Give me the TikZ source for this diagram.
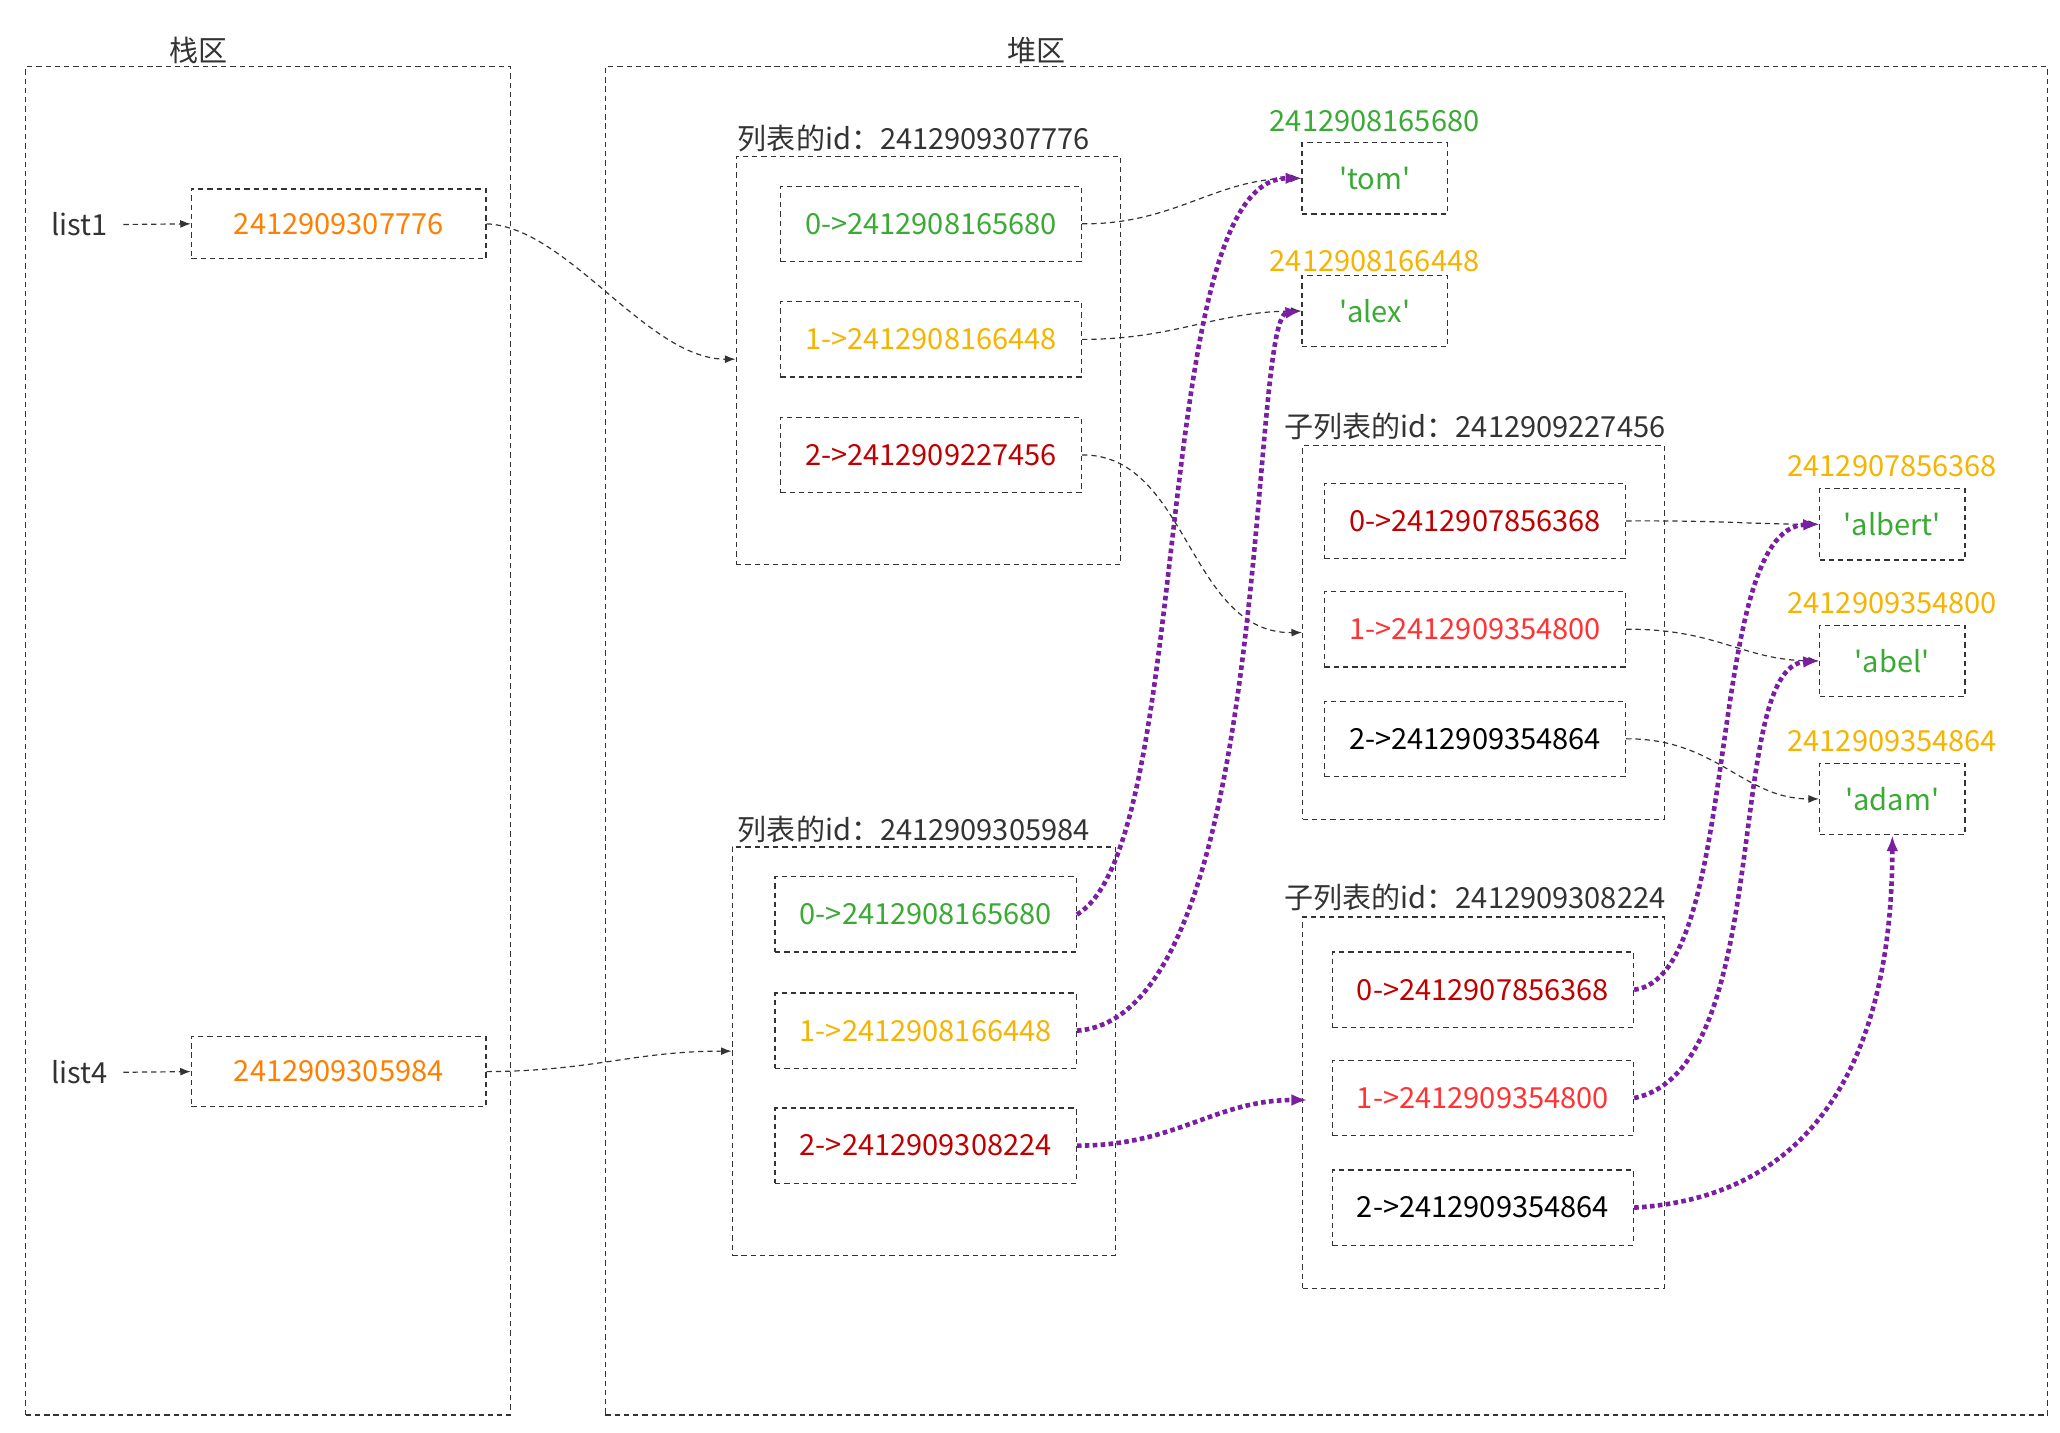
\documentclass[tikz,border=0pt]{standalone}
\usepackage{fontspec}
\setmainfont{Noto Sans CJK SC}
\usetikzlibrary{arrows.meta}
\definecolor{cg}{HTML}{3AAA35}
\definecolor{cy}{HTML}{F5B400}
\definecolor{co}{HTML}{FF7F00}
\definecolor{cr}{HTML}{C00000}
\definecolor{cb}{HTML}{FF3333}
\definecolor{cp}{HTML}{7B1FA2}
\definecolor{ct}{HTML}{333333}
\newcommand{\sq}{\textquotesingle}
\tikzset{
 dbox/.style={draw=ct,dash pattern=on 4pt off 3pt,line width=1pt,inner sep=0pt,font=\fontsize{22}{26}\selectfont},
 item/.style={dbox,minimum width=228pt,minimum height=57pt},
 val/.style={dbox,minimum width=110pt,minimum height=54pt,text=cg},
 lab/.style={font=\fontsize{22}{26}\selectfont,inner sep=0pt},
 blk/.style={draw=ct,line width=0.9pt,dash pattern=on 4pt off 3pt,-{Latex[length=8pt,width=6pt]}},
 pur/.style={draw=cp,line width=3.5pt,dash pattern=on 3.5pt off 2.5pt,-{Latex[length=12pt,width=9pt]}}
}
\begin{document}
\begin{tikzpicture}[x=1pt,y=-1pt]
\useasboundingbox (0,0) rectangle (1560,1085);
% regions
\node[dbox,anchor=north west,minimum width=367pt,minimum height=1021pt] (stack) at (19,50) {};
\node[dbox,anchor=north west,minimum width=1092pt,minimum height=1021pt] (heap) at (458,50) {};
\node[lab,text=ct] (stl) at (150,38) {栈区};
\node[lab,text=ct] (hpl) at (785,38) {堆区};
% stack
\node[lab,text=ct] (l1) at (60,170) {list1};
\node[dbox,minimum width=223pt,minimum height=53pt,text=co] (b1) at (256.5,169.5) {2412909307776};
\node[lab,text=ct] (l4) at (60,812) {list4};
\node[dbox,minimum width=223pt,minimum height=53pt,text=co] (b4) at (256.5,811.5) {2412909305984};
% list1
\node[dbox,anchor=north west,minimum width=291pt,minimum height=309pt] (L1) at (557,118) {};
\node[lab,text=ct] (L1l) at (692,105) {列表的id：2412909307776};
\node[item,text=cg] (a0) at (705,169.5) {0->2412908165680};
\node[item,text=cy] (a1) at (705,257) {1->2412908166448};
\node[item,text=cr] (a2) at (705,344.5) {2->2412909227456};
% values
\node[val] (tom) at (1041,135) {\sq tom\sq};
\node[lab,text=cg] (toml) at (1041,92) {2412908165680};
\node[val] (alex) at (1041,235.5) {\sq alex\sq};
\node[lab,text=cy] (alexl) at (1041,198) {2412908166448};
\node[val] (albert) at (1433,397) {\sq albert\sq};
\node[lab,text=cy] (albertl) at (1433,353) {2412907856368};
\node[val] (abel) at (1433,500.5) {\sq abel\sq};
\node[lab,text=cy] (abell) at (1433,457) {2412909354800};
\node[val] (adam) at (1433,605) {\sq adam\sq};
\node[lab,text=cy] (adaml) at (1433,561) {2412909354864};
% sublist1
\node[dbox,anchor=north west,minimum width=274pt,minimum height=283pt] (S1) at (986,337) {};
\node[lab,text=ct] (S1l) at (1117,323) {子列表的id：2412909227456};
\node[item,text=cr] (s0) at (1117,394.5) {0->2412907856368};
\node[item,text=cb] (s1) at (1117,476.5) {1->2412909354800};
\node[item,text=black] (s2) at (1117,559.5) {2->2412909354864};
% list4
\node[dbox,anchor=north west,minimum width=290pt,minimum height=309pt] (L4) at (554,641) {};
\node[lab,text=ct] (L4l) at (692,628) {列表的id：2412909305984};
\node[item,text=cg] (c0) at (701,692.5) {0->2412908165680};
\node[item,text=cy] (c1) at (701,780.5) {1->2412908166448};
\node[item,text=cr] (c2) at (701,867.5) {2->2412909308224};
% sublist2
\node[dbox,anchor=north west,minimum width=274pt,minimum height=281pt] (S2) at (986,694) {};
\node[lab,text=ct] (S2l) at (1117,680) {子列表的id：2412909308224};
\node[item,text=cr] (t0) at (1123,749.5) {0->2412907856368};
\node[item,text=cb] (t1) at (1123,831.5) {1->2412909354800};
\node[item,text=black] (t2) at (1123,914.5) {2->2412909354864};
\coordinate (L1in) at (557,272);
\coordinate (L4in) at (554,796);
\coordinate (S1in) at (986,479);
\coordinate (S2in) at (990,833);
% black connectors
\draw[blk] (l1.east)++(12,0) -- (b1.west);
\draw[blk] (l4.east)++(12,0) -- (b4.west);
\draw[blk] (b1.east) .. controls (430,172) and (490,272) .. (L1in);
\draw[blk] (b4.east) .. controls (450,811) and (480,796) .. (L4in);
\draw[blk] (a0.east) .. controls (890,170) and (920,135) .. (tom.west);
\draw[blk] (a1.east) .. controls (890,257) and (920,236) .. (alex.west);
\draw[blk] (a2.east) .. controls (900,344) and (900,480) .. (S1in);
\draw[blk] (s0.east) .. controls (1300,394) and (1330,397) .. (albert.west);
\draw[blk] (s1.east) .. controls (1300,476) and (1320,500) .. (abel.west);
\draw[blk] (s2.east) .. controls (1300,559) and (1320,605) .. (adam.west);
% purple connectors
\draw[pur] (c0.east) .. controls (905,640) and (870,135) .. (tom.west);
\draw[pur] (c1.east) .. controls (965,770) and (945,240) .. (alex.west);
\draw[pur] (c2.east) .. controls (890,868) and (920,833) .. (S2in);
\draw[pur] (t0.east) .. controls (1320,740) and (1290,400) .. (albert.west);
\draw[pur] (t1.east) .. controls (1345,810) and (1305,505) .. (abel.west);
\draw[pur] (t2.east) .. controls (1400,905) and (1433,760) .. (adam.south);
\end{tikzpicture}
\end{document}
